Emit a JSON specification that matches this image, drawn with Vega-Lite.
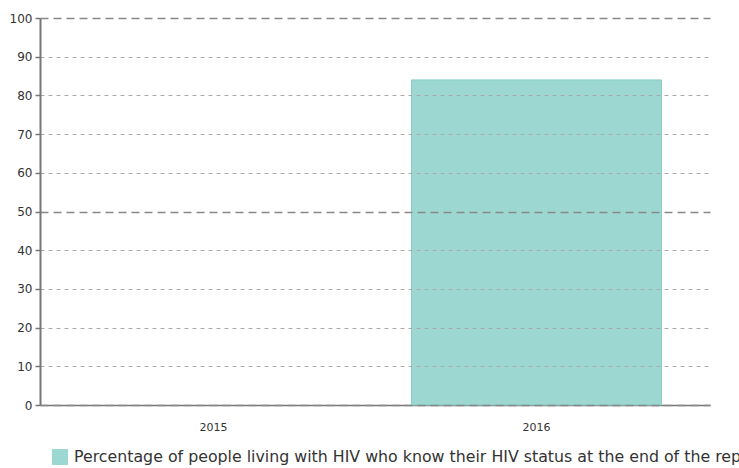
{
  "$schema": "https://vega.github.io/schema/vega-lite/v6.json",
  "autosize": {"type": "none"},
  "width": 670,
  "height": 387,
  "padding": {"left": 40, "top": 18, "right": 29, "bottom": 63},
  "background": "white",
  "config": {"view": {"stroke": null}, "font": "DejaVu Sans"},
  "data": {"values": [
    {"year": "2015", "value": null, "series": "Percentage of people living with HIV who know their HIV status at the end of the reporting period"},
    {"year": "2016", "value": 84, "series": "Percentage of people living with HIV who know their HIV status at the end of the reporting period"}
  ]},
  "mark": {"type": "bar", "stroke": "#86cfc6", "strokeWidth": 1},
  "encoding": {
    "x": {
      "field": "year", "type": "nominal",
      "scale": {"domain": ["2015", "2016"], "paddingInner": 0.226, "paddingOuter": 0.15},
      "axis": {"title": null, "labelAngle": 0, "ticks": false, "labelPadding": 16, "labelFontSize": 11, "labelColor": "#333", "domainColor": "#777", "domainWidth": 1.5, "grid": false}
    },
    "y": {
      "field": "value", "type": "quantitative",
      "scale": {"domain": [0, 100], "nice": false},
      "axis": {
        "title": null, "values": [0,10,20,30,40,50,60,70,80,90,100],
        "zindex": 1,
        "labelFontSize": 12, "labelColor": "#333", "labelPadding": 3,
        "tickSize": 5, "tickColor": "#777", "tickWidth": 1.5,
        "domainColor": "#777", "domainWidth": 2,
        "grid": true,
        "gridColor": {"condition": {"test": "datum.value % 50 === 0", "value": "#888"}, "value": "#aaa"},
        "gridDash": {"condition": {"test": "datum.value % 50 === 0", "value": [8, 5]}, "value": [4, 4]},
        "gridWidth": {"condition": {"test": "datum.value % 50 === 0", "value": 1.5}, "value": 1}
      }
    },
    "color": {
      "field": "series", "type": "nominal",
      "scale": {"range": ["#9cd8d1"]},
      "legend": {
        "title": null, "orient": "none", "legendX": 12, "legendY": 431,
        "padding": 0, "symbolType": "square", "symbolSize": 256, "symbolStrokeWidth": 0,
        "labelFontSize": 15.8, "labelColor": "#333", "labelLimit": 2000, "labelOffset": 6
      }
    }
  }
}
